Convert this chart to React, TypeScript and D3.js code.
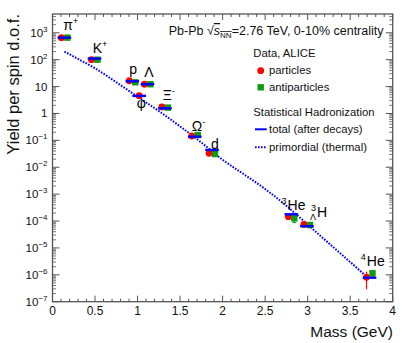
import * as d3 from "d3";

// particle species (label parts), masses in GeV
const labelPre = ["", "", "", "", "", "", "", "", "3", "3", "4"];
const labelPreSub = ["", "", "", "", "", "", "", "", "", "Λ", ""];
const labelMain = ["π", "K", "p", "φ", "Λ", "Ξ", "Ω", "d", "He", "H", "He"];
const labelSup = ["+", "+", "", "", "", "-", "-", "", "", "", ""];
const masses = [0.1396, 0.4937, 0.9383, 1.0195, 1.1157, 1.3217, 1.6725, 1.8756, 2.8084, 2.9913, 3.7274];

// yields per spin d.o.f.
const particleYield = [660, 100, 16.5, 4.6, 12.2, 1.75, 0.145, 0.033, 1.45e-4, 7.5e-5, 8.1e-7];
const antiYield: (number | null)[] = [660, 100, 14.4, null, 12.2, 1.65, 0.158, 0.031, 1.26e-4, 7.1e-5, 1.14e-6];
const particleLo: (number | null)[] = [null, null, null, null, null, null, null, null, 1.3e-4, 6.8e-5, 2.9e-7];
const particleHi: (number | null)[] = [null, null, null, null, null, null, null, null, 1.6e-4, 8.3e-5, 1.3e-6];
const antiLo: (number | null)[] = [null, null, null, null, null, null, null, null, 8.7e-5, 6.0e-5, 8.3e-7];
const antiHi: (number | null)[] = [null, null, null, null, null, null, null, null, 1.6e-4, 8.5e-5, 1.5e-6];
const modelTotal = [660, 110, 15.7, 4.5, 12.2, 1.55, 0.137, 0.044, 1.78e-4, 6.4e-5, 7.8e-7];

// label anchors (data coords)
const labelMass = [0.127, 0.473, 0.903, 0.99, 1.079, 1.296, 1.637, 1.864, 2.693, 3.04, 3.625];
const labelYield = [1300, 173, 29.4, 1.55, 22.1, 3.14, 0.229, 0.049, 2.57e-4, 1.45e-4, 2.14e-6];

// primordial (thermal) curve
const thermalMass = [0.14, 0.3, 0.5, 0.75, 1.0, 1.25, 1.5, 1.75, 2.0, 2.25, 2.5, 2.75, 3.0, 3.25, 3.5, 3.67];
const thermalYield = [200, 107, 48, 14.5, 4.2, 1.23, 0.33, 0.083, 0.019, 5.5e-3, 1.55e-3, 3.7e-4, 7.4e-5, 1.48e-5, 3.0e-6, 1.0e-6];

const xMajor = [0, 0.5, 1, 1.5, 2, 2.5, 3, 3.5, 4];
const xLabels = ["0", "0.5", "1", "1.5", "2", "2.5", "3", "3.5", "4"];
const yDecades = [-7, -6, -5, -4, -3, -2, -1, 0, 1, 2, 3];

const W = 407, H = 343;
const font = "'Liberation Sans', Arial, Helvetica, sans-serif";
const frameCol = "#555";
const red = "#ff0000", green = "#109a10", blue = "#0000ff";

export default function App() {
  const x = d3.scaleLinear().domain([0, 4]).range([52.5, 392.7]);
  const y = d3.scaleLog().domain([1e-7, 5e3]).range([301.7, 14]);
  const [x0, x1] = x.range();
  const [y0, y1] = y.range();

  const xMinor = d3.range(0, 40.5, 1).map(i => i / 10).filter(v => !xMajor.some(m => Math.abs(m - v) < 1e-6));
  const yMinor: number[] = [];
  yDecades.forEach(k => d3.range(2, 10).forEach(j => { const v = j * Math.pow(10, k); if (v < 5e3) yMinor.push(v); }));

  const thermal = d3.line<number>()
    .x((_, i) => x(thermalMass[i]))
    .y(d => y(d))
    .curve(d3.curveMonotoneX)(thermalYield);

  const off = 0.035;
  const half = 0.08;

  return (
    <svg width={W} height={H} style={{ position: "absolute", left: 0, top: 0, background: "#fff" }} fontFamily={font}>
      {/* thermal curve */}
      <path d={thermal || ""} fill="none" stroke={blue} strokeWidth={2} strokeDasharray="1.6 1.4" />

      {/* data markers */}
      {masses.map((m, i) => {
        const px = antiYield[i] == null ? x(m) : x(m - off);
        const ax = x(m + off);
        const a = antiYield[i];
        return (
          <g key={"d" + i}>
            {particleLo[i] != null && (
              <line x1={px} x2={px} y1={y(particleLo[i] as number)} y2={y(particleHi[i] as number)} stroke={red} strokeWidth={1.2} />
            )}
            <circle cx={px} cy={y(particleYield[i])} r={3.4} fill={red} />
            {a != null && antiLo[i] != null && (
              <g>
                <line x1={ax} x2={ax} y1={y(antiLo[i] as number)} y2={y(antiHi[i] as number)} stroke={green} strokeWidth={1.2} />
                <line x1={ax - 2} x2={ax + 2} y1={y(antiLo[i] as number)} y2={y(antiLo[i] as number)} stroke={green} strokeWidth={1} />
              </g>
            )}
            {a != null && <rect x={ax - 3.2} y={y(a) - 3.2} width={6.4} height={6.4} fill={green} />}
          </g>
        );
      })}

      {/* model total */}
      {masses.map((m, i) => (
        <line key={"m" + i} x1={x(m - half)} x2={x(m + half)} y1={y(modelTotal[i])} y2={y(modelTotal[i])} stroke={blue} strokeWidth={2.4} />
      ))}

      {/* particle labels */}
      {labelMain.map((t, i) => {
        const lx = x(labelMass[i]);
        const ly = y(labelYield[i]);
        const pw = labelPre[i] ? 6 : 0;
        return (
          <g key={"l" + i} fontSize={14}>
            {labelPre[i] && <text x={lx} y={ly - 6} fontSize={9}>{labelPre[i]}</text>}
            {labelPreSub[i] && <text x={lx - 1} y={ly + 3} fontSize={9}>{labelPreSub[i]}</text>}
            <text x={lx + pw} y={ly}>
              {t}
              {labelSup[i] && <tspan fontSize={9} dy={-6}>{labelSup[i]}</tspan>}
            </text>
          </g>
        );
      })}

      {/* frame */}
      <rect x={x0} y={y1} width={x1 - x0} height={y0 - y1} fill="none" stroke={frameCol} strokeWidth={1.3} />
      {xMajor.map(v => (
        <g key={"xM" + v} stroke={frameCol} strokeWidth={1}>
          <line x1={x(v)} x2={x(v)} y1={y0} y2={y0 - 6} />
          <line x1={x(v)} x2={x(v)} y1={y1} y2={y1 + 6} />
        </g>
      ))}
      {xMinor.map(v => (
        <g key={"xm" + v} stroke={frameCol} strokeWidth={1}>
          <line x1={x(v)} x2={x(v)} y1={y0} y2={y0 - 3} />
          <line x1={x(v)} x2={x(v)} y1={y1} y2={y1 + 3} />
        </g>
      ))}
      {yDecades.map(k => (
        <g key={"yM" + k} stroke={frameCol} strokeWidth={1}>
          <line x1={x0} x2={x0 + 7} y1={y(Math.pow(10, k))} y2={y(Math.pow(10, k))} />
          <line x1={x1} x2={x1 - 7} y1={y(Math.pow(10, k))} y2={y(Math.pow(10, k))} />
        </g>
      ))}
      {yMinor.map(v => (
        <g key={"ym" + v} stroke={frameCol} strokeWidth={0.8}>
          <line x1={x0} x2={x0 + 3.5} y1={y(v)} y2={y(v)} />
          <line x1={x1} x2={x1 - 3.5} y1={y(v)} y2={y(v)} />
        </g>
      ))}

      {/* tick labels */}
      {xMajor.map((v, i) => (
        <text key={"xl" + v} x={x(v)} y={315} fontSize={12} textAnchor="middle" fill="#111">{xLabels[i]}</text>
      ))}
      {yDecades.map(k => (
        <text key={"yl" + k} x={47.5} y={y(Math.pow(10, k)) + 4} fontSize={11.5} textAnchor="end" fill="#111">
          {k === 0 ? "1" : k === 1 ? "10" : (
            <>
              10<tspan fontSize={8} dy={-5}>{k < 0 ? "\u2212" + (-k) : String(k)}</tspan>
            </>
          )}
        </text>
      ))}

      {/* axis titles */}
      <text x={393} y={336.5} fontSize={15.5} textAnchor="end" fill="#111">Mass (GeV)</text>
      <text transform="translate(19,14) rotate(-90)" fontSize={16.5} textAnchor="end" fill="#111">Yield per spin d.o.f.</text>

      {/* header */}
      <text x={383.5} y={35} fontSize={12.5} textAnchor="end" fill="#111">
        Pb-Pb √<tspan fontStyle="italic" textDecoration="overline">s</tspan>
        <tspan fontSize={8} dy={3} textDecoration="overline">NN</tspan>
        <tspan dy={-3}>=2.76 TeV, 0-10% centrality</tspan>
      </text>

      {/* legend */}
      <g fontSize={11.3} fill="#111">
        <text x={253.3} y={56.7}>Data, ALICE</text>
        <circle cx={260.7} cy={70.7} r={3.4} fill={red} />
        <text x={269} y={73.5}>particles</text>
        <rect x={257.5} y={84.1} width={6.4} height={6.4} fill={green} />
        <text x={269} y={90.8}>antiparticles</text>
        <text x={253.3} y={115.7}>Statistical Hadronization</text>
        <line x1={255} x2={266.7} y1={129.3} y2={129.3} stroke={blue} strokeWidth={2} />
        <text x={269} y={132.7}>total (after decays)</text>
        <line x1={255} x2={266.7} y1={147.3} y2={147.3} stroke={blue} strokeWidth={2} strokeDasharray="1.6 1.4" />
        <text x={269} y={151}>primordial (thermal)</text>
      </g>
    </svg>
  );
}
